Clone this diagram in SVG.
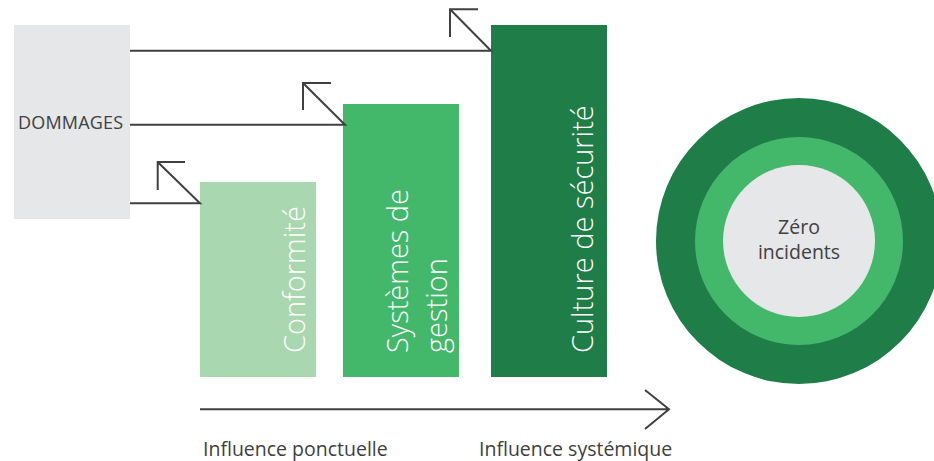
<svg xmlns="http://www.w3.org/2000/svg" width="934" height="461" viewBox="0 0 934 461">
  <style>
    .lbl { font-family: "Open Sans", "Liberation Sans", sans-serif; fill: #404040; }
    .bar-txt { font-family: "Open Sans", "Liberation Sans", sans-serif; font-weight: 300; fill: #ffffff; font-size: 29px; }
    .wire { fill: none; stroke: #404040; stroke-width: 2; }
  </style>

  <!-- Damage source block -->
  <g id="dommages">
    <rect x="14" y="25" width="116" height="194" fill="#E6E7E8"/>
    <text class="lbl" x="18" y="129" font-size="18" textLength="105">DOMMAGES</text>
  </g>

  <!-- Barrier bars -->
  <g id="conformite">
    <rect x="200" y="182" width="116" height="195" fill="#A9D7AF"/>
    <text class="bar-txt" transform="translate(305 353) rotate(-90)">Conformité</text>
  </g>
  <g id="systemes">
    <rect x="343" y="104" width="116" height="273" fill="#43B86B"/>
    <text class="bar-txt" transform="translate(408 353) rotate(-90)">Systèmes de</text>
    <text class="bar-txt" transform="translate(447 353) rotate(-90)">gestion</text>
  </g>
  <g id="culture">
    <rect x="491" y="25" width="116" height="352" fill="#1F7D48"/>
    <text class="bar-txt" transform="translate(593 353) rotate(-90)">Culture de sécurité</text>
  </g>

  <!-- Target rings -->
  <g id="zero-incidents">
    <circle cx="799" cy="241" r="143" fill="#1F7D48"/>
    <circle cx="799" cy="241" r="104" fill="#43B86B"/>
    <circle cx="799" cy="241" r="76" fill="#E6E7E8"/>
    <text class="lbl" x="799" y="234" font-size="19.5" text-anchor="middle">Zéro</text>
    <text class="lbl" x="799" y="259" font-size="19.5" text-anchor="middle">incidents</text>
  </g>

  <!-- Damage paths deflected by each barrier, and the influence axis -->
  <g id="connectors">
    <path class="wire" d="M130 50.7 H491 L450 9.3 M478 9.3 H450 V37"/>
    <path class="wire" d="M130 124.7 H345 L303 83 M331 83 H303 V110"/>
    <path class="wire" d="M130 203.3 H200 L157.7 162 M185 162 H157.7 V190"/>
    <path class="wire" d="M200 409.3 H669 M645 390 L669 409.3 L645 429"/>
  </g>

  <g id="axis-labels">
    <text class="lbl" x="203" y="456" font-size="19.5">Influence ponctuelle</text>
    <text class="lbl" x="479" y="456" font-size="19.5">Influence systémique</text>
  </g>
</svg>
